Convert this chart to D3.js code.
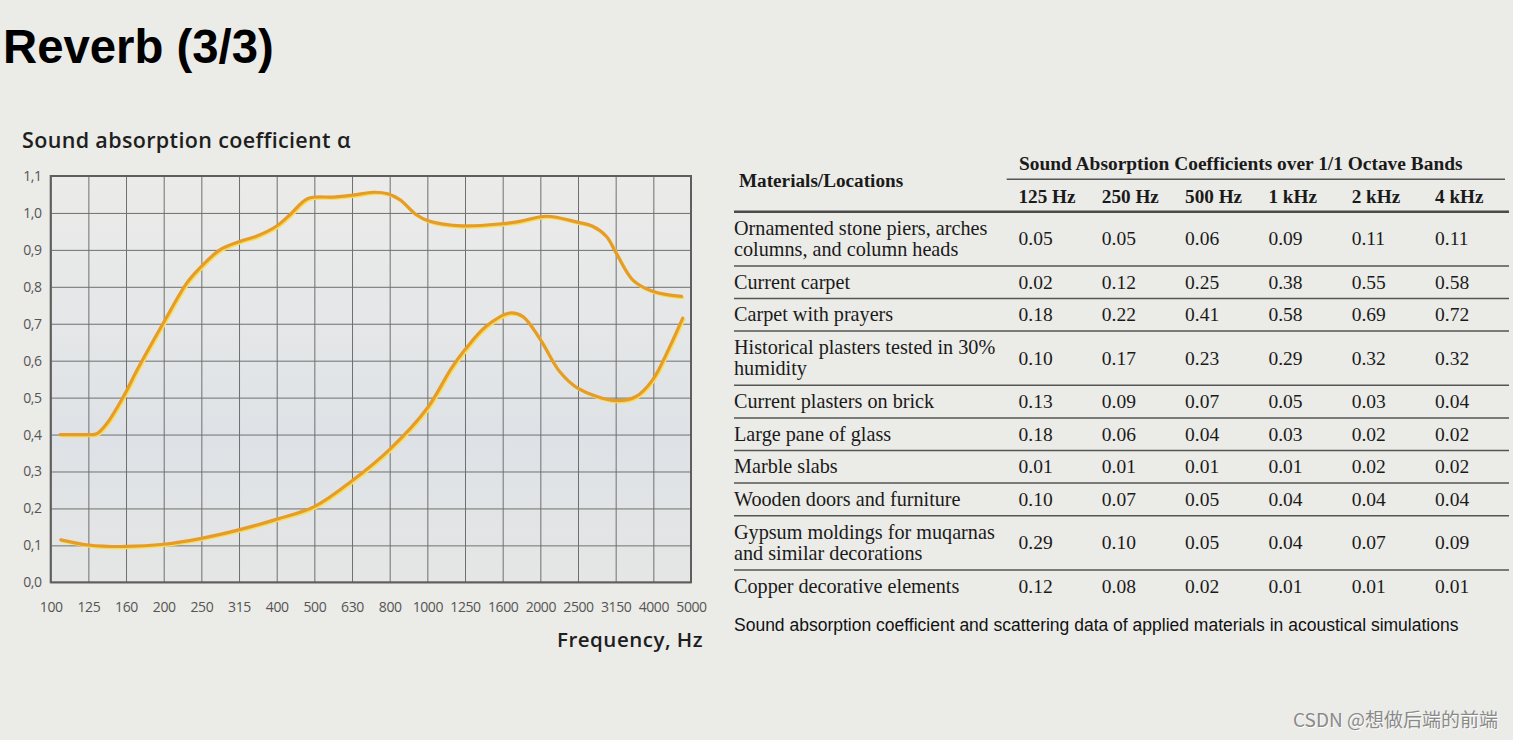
<!DOCTYPE html>
<html><head><meta charset="utf-8">
<script src="https://cdn.jsdelivr.net/npm/d3@7"></script>
<style>body{margin:0;background:#ebebe7;} svg{display:block}</style>
</head><body>
<svg id="c" width="1513" height="740"></svg>
<script>
// ---------- DATA ----------
const freqLabels = ["100","125","160","200","250","315","400","500","630","800","1000","1250","1600","2000","2500","3150","4000","5000"];
const yTickValues = [0,0.1,0.2,0.3,0.4,0.5,0.6,0.7,0.8,0.9,1.0,1.1];
// curve samples: position in band steps (0 = 100 Hz ... 17 = 5000 Hz), absorption coefficient
const upperPos = [0.25,1.0,1.22,1.49,1.93,2.32,2.99,3.61,3.96,4.49,5.02,5.46,5.99,6.35,6.83,7.5,8.02,8.56,8.95,9.27,9.71,10.02,10.94,12.0,12.45,13.16,13.99,14.39,14.75,15.01,15.45,15.98,16.75];
const upperVal = [0.40,0.40,0.402,0.43,0.503,0.58,0.702,0.81,0.851,0.90,0.923,0.937,0.964,0.995,1.039,1.043,1.048,1.056,1.052,1.036,0.995,0.979,0.965,0.971,0.977,0.991,0.975,0.964,0.937,0.892,0.819,0.788,0.774];
const lowerPos = [0.27,1.0,1.99,3.0,4.0,4.99,6.01,7.0,8.0,9.0,10.0,10.64,11.0,11.56,12.18,12.53,13.0,13.5,13.99,14.99,15.54,15.98,16.4,16.78];
const lowerVal = [0.115,0.101,0.097,0.103,0.119,0.142,0.171,0.205,0.275,0.36,0.472,0.58,0.63,0.693,0.729,0.72,0.657,0.572,0.526,0.492,0.503,0.548,0.63,0.715];

const tableGroupHeader = "Sound Absorption Coefficients over 1/1 Octave Bands";
const tableFirstHeader = "Materials/Locations";
const bandHeaders = ["125 Hz","250 Hz","500 Hz","1 kHz","2 kHz","4 kHz"];
const materials = [
  ["Ornamented stone piers, arches","columns, and column heads"],
  ["Current carpet"],
  ["Carpet with prayers"],
  ["Historical plasters tested in 30%","humidity"],
  ["Current plasters on brick"],
  ["Large pane of glass"],
  ["Marble slabs"],
  ["Wooden doors and furniture"],
  ["Gypsum moldings for muqarnas","and similar decorations"],
  ["Copper decorative elements"]
];
const coefficients = [
  ["0.05","0.05","0.06","0.09","0.11","0.11"],
  ["0.02","0.12","0.25","0.38","0.55","0.58"],
  ["0.18","0.22","0.41","0.58","0.69","0.72"],
  ["0.10","0.17","0.23","0.29","0.32","0.32"],
  ["0.13","0.09","0.07","0.05","0.03","0.04"],
  ["0.18","0.06","0.04","0.03","0.02","0.02"],
  ["0.01","0.01","0.01","0.01","0.02","0.02"],
  ["0.10","0.07","0.05","0.04","0.04","0.04"],
  ["0.29","0.10","0.05","0.04","0.07","0.09"],
  ["0.12","0.08","0.02","0.01","0.01","0.01"]
];
const caption = "Sound absorption coefficient and scattering data of applied materials in acoustical simulations";
const pageTitle = "Reverb (3/3)";
const yTitle = "Sound absorption coefficient \u03b1";
const xTitle = "Frequency, Hz";
const credit = "CSDN @想做后端的前端";

// ---------- DRAW ----------
const svg = d3.select("#c");
const plot = {left:50.7, right:691, top:176, bottom:582.3};
const x = d3.scaleLinear().domain([0, freqLabels.length-1]).range([plot.left, plot.right]);
const y = d3.scaleLinear().domain([0, 1.1]).range([plot.bottom, plot.top]);

svg.append("text").attr("x",3).attr("y",63).text(pageTitle)
  .attr("font-family","Liberation Sans, Arial, sans-serif").attr("font-weight","bold")
  .attr("font-size",47.3).attr("fill","#000");

const defs = svg.append("defs");
const g1 = defs.append("linearGradient").attr("id","bg").attr("x1",0).attr("y1",0).attr("x2",0).attr("y2",1);
[[0,"#ebebe9"],[0.35,"#e5e7e8"],[0.65,"#dee2e6"],[1,"#e5e6e5"]].forEach(s=>g1.append("stop").attr("offset",s[0]).attr("stop-color",s[1]));

svg.append("rect").attr("x",plot.left).attr("y",plot.top)
  .attr("width",plot.right-plot.left).attr("height",plot.bottom-plot.top).attr("fill","url(#bg)");

const fmtY = d => d3.format(".1f")(d).replace(".",",");
const yAxis = svg.append("g").attr("transform",`translate(${plot.left},0)`)
  .call(d3.axisLeft(y).tickValues(yTickValues).tickFormat(fmtY).tickSize(-(plot.right-plot.left)).tickPadding(9));
const xAxis = svg.append("g").attr("transform",`translate(0,${plot.bottom})`)
  .call(d3.axisBottom(x).tickValues(d3.range(freqLabels.length)).tickFormat(i=>freqLabels[i]).tickSize(-(plot.bottom-plot.top)).tickPadding(19.5));
[yAxis,xAxis].forEach(a=>{
  a.select(".domain").remove();
  a.selectAll(".tick line").attr("stroke","#6f6f6f").attr("stroke-width",1);
  a.selectAll(".tick text").attr("font-family","Open Sans, Noto Sans, sans-serif").attr("font-size",14).attr("fill","#555").attr("letter-spacing",-0.4);
});
svg.append("rect").attr("x",plot.left).attr("y",plot.top)
  .attr("width",plot.right-plot.left).attr("height",plot.bottom-plot.top)
  .attr("fill","none").attr("stroke","#5e5e5e").attr("stroke-width",2);

const line = d3.line().x(d=>x(d[0])).y(d=>y(d[1])).curve(d3.curveCatmullRom.alpha(0.5));
[[upperPos,upperVal],[lowerPos,lowerVal]].forEach(([p,v])=>{
  const pts = p.map((d,i)=>[d,v[i]]);
  svg.append("path").datum(pts).attr("d",line).attr("fill","none")
    .attr("stroke","#f9dc55").attr("stroke-width",3).attr("transform","translate(1.2,1.3)").attr("stroke-linecap","round");
  svg.append("path").datum(pts).attr("d",line).attr("fill","none")
    .attr("stroke","#e69d28").attr("stroke-width",3.2).attr("stroke-linecap","round");
});

svg.append("text").attr("x",22).attr("y",148).text(yTitle)
  .attr("font-family","Open Sans, Noto Sans, sans-serif").attr("font-weight",600)
  .attr("font-size",21.5).attr("letter-spacing",0.35).attr("fill","#1e1e1e");
svg.append("text").attr("x",703).attr("y",647).attr("text-anchor","end").text(xTitle)
  .attr("font-family","Open Sans, Noto Sans, sans-serif").attr("font-weight",600)
  .attr("font-size",20.5).attr("letter-spacing",0.5).attr("fill","#1e1e1e");

// ---------- TABLE ----------
const serif = "Liberation Serif, Times New Roman, serif";
const tLeft = 734, tRight = 1509;
const col = d3.scaleLinear().domain([0,1]).range([1018.5, 1101.8]);
const tg = svg.append("g").attr("fill","#1a1a1a").attr("font-family",serif);
tg.append("text").attr("x",1019).attr("y",170).text(tableGroupHeader).attr("font-weight","bold").attr("font-size",19.4);
tg.append("text").attr("x",739).attr("y",186.7).text(tableFirstHeader).attr("font-weight","bold").attr("font-size",19.2);
bandHeaders.forEach((h,i)=>tg.append("text").attr("x",col(i)).attr("y",203.3).text(h).attr("font-weight","bold").attr("font-size",19.2));
svg.append("line").attr("x1",1006.7).attr("x2",1505).attr("y1",179.3).attr("y2",179.3).attr("stroke","#555").attr("stroke-width",1.5);
svg.append("line").attr("x1",tLeft).attr("x2",tRight).attr("y1",211.7).attr("y2",211.7).attr("stroke","#4a4a4a").attr("stroke-width",2.5);

const singleH = 32.6, doubleH = 54.2, lineGap = 21.5;
let rowTop = 211.7;
materials.forEach((m,r)=>{
  const h = m.length>1 ? doubleH : singleH;
  const mid = rowTop + h/2;
  m.forEach((t,k)=>{
    const off = (k - (m.length-1)/2) * lineGap;
    tg.append("text").attr("x",tLeft).attr("y",mid+off+6.5).text(t).attr("font-size",20.2);
  });
  coefficients[r].forEach((v,i)=>tg.append("text").attr("x",col(i)).attr("y",mid+6.5).text(v).attr("font-size",19.5));
  rowTop += h;
  if (r < materials.length-1)
    svg.append("line").attr("x1",tLeft).attr("x2",tRight).attr("y1",rowTop).attr("y2",rowTop).attr("stroke","#555").attr("stroke-width",1.5);
});

svg.append("text").attr("x",734).attr("y",630.5).text(caption)
  .attr("font-family","Liberation Sans, Arial, sans-serif").attr("font-size",17.5).attr("fill","#111");

svg.append("text").attr("x",1498).attr("y",727).attr("text-anchor","end").text(credit)
  .attr("font-family","Noto Sans CJK SC, sans-serif").attr("font-size",19).attr("fill","#fff").attr("transform","translate(0.8,0.8)");
svg.append("text").attr("x",1498).attr("y",727).attr("text-anchor","end").text(credit)
  .attr("font-family","Noto Sans CJK SC, sans-serif").attr("font-size",19).attr("fill","#8a8a8a");
</script>
</body></html>
